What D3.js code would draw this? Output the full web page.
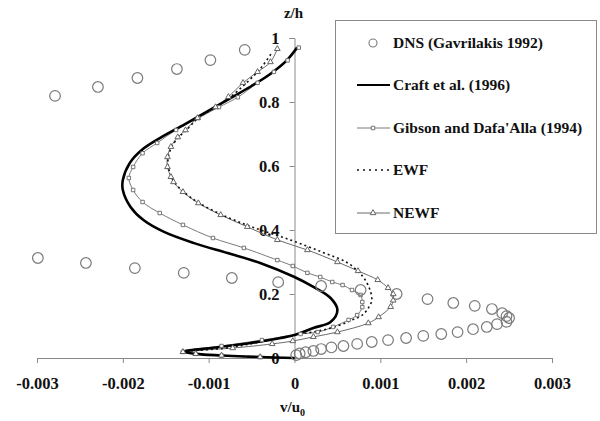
<!DOCTYPE html>
<html>
<head>
<meta charset="utf-8">
<script src="https://cdn.jsdelivr.net/npm/d3@7"></script>
<style>
  html, body { margin: 0; padding: 0; background: #fff; }
  svg { display: block; }
  text { font-family: "Liberation Serif", "Times New Roman", serif; font-weight: bold; fill: #111; }
</style>
</head>
<body>
<svg id="chart" width="600" height="421"></svg>
<script>
// ---------------- DATA ----------------
const xTicks = [-0.003, -0.002, -0.001, 0, 0.001, 0.002, 0.003];
const xTickLabels = ["-0.003", "-0.002", "-0.001", "0", "0.001", "0.002", "0.003"];
const yTicks = [0, 0.2, 0.4, 0.6, 0.8, 1];
const yTickLabels = ["0", "0.2", "0.4", "0.6", "0.8", "1"];

const seriesNames = ["DNS (Gavrilakis 1992)", "Craft et al. (1996)", "Gibson and Dafa'Alla (1994)", "EWF", "NEWF"];

// DNS (Gavrilakis 1992): v/u0 (x1e-3) and z/h
const dnsV = [-2.79, -2.29, -1.83, -1.37, -0.98, -0.58,
  -2.99, -2.43, -1.86, -1.29, -0.73, -0.19, 0.31, 0.77, 1.19, 1.55, 1.85, 2.10, 2.30, 2.42, 2.47, 2.50,
  2.47, 2.36, 2.24, 2.08, 1.90, 1.71, 1.50, 1.30, 1.09, 0.90, 0.73, 0.57, 0.43, 0.31, 0.22, 0.13, 0.06, 0.02];
const dnsZ = [0.819, 0.847, 0.875, 0.903, 0.931, 0.963,
  0.3125, 0.297, 0.281, 0.266, 0.25, 0.237, 0.225, 0.2125, 0.2, 0.184, 0.172, 0.163, 0.153, 0.14, 0.131, 0.125,
  0.113, 0.106, 0.097, 0.09, 0.081, 0.075, 0.069, 0.0625, 0.056, 0.05, 0.044, 0.0375, 0.033, 0.028, 0.022, 0.018, 0.014, 0.009];

// Craft et al. (1996)
const craftZ = [0, 0.003, 0.008, 0.013, 0.02, 0.031, 0.047, 0.072, 0.094, 0.1125, 0.15, 0.1875, 0.222, 0.253,
  0.297, 0.328, 0.359, 0.394, 0.431, 0.472, 0.525, 0.556, 0.609, 0.65, 0.69, 0.73, 0.77, 0.81, 0.85, 0.89, 0.93, 0.97];
const craftV = [0, -0.4, -0.85, -1.15, -1.3, -0.98, -0.51, 0, 0.22, 0.42, 0.5, 0.42, 0.22, 0,
  -0.40, -0.78, -1.17, -1.52, -1.76, -1.91, -2.0, -2.0, -1.92, -1.78, -1.55, -1.28, -1.02, -0.76, -0.50, -0.27, -0.09, 0.03];

// Gibson and Dafa'Alla (1994)
const gibsonZ = [0, 0.003, 0.008, 0.013, 0.019, 0.0375, 0.056, 0.075, 0.081, 0.097, 0.119, 0.134, 0.159, 0.175, 0.197,
  0.2125, 0.228, 0.2375, 0.253, 0.266, 0.2875, 0.306, 0.344, 0.375, 0.416, 0.453, 0.4875, 0.525, 0.5625, 0.597,
  0.64, 0.672, 0.7125, 0.75, 0.784, 0.815, 0.86, 0.894, 0.93, 0.97];
const gibsonV = [0, -0.4, -0.85, -1.15, -1.3, -0.85, -0.38, 0.07, 0.27, 0.45, 0.63, 0.73, 0.79, 0.79, 0.77,
  0.67, 0.56, 0.44, 0.30, 0.15, -0.02, -0.2, -0.59, -0.95, -1.30, -1.57, -1.77, -1.88, -1.93, -1.88,
  -1.77, -1.60, -1.38, -1.12, -0.88, -0.66, -0.43, -0.24, -0.08, 0.05];

// EWF
const ewfZ = [0, 0.003, 0.008, 0.013, 0.019, 0.031, 0.05, 0.072, 0.084, 0.1, 0.119, 0.134, 0.156, 0.18, 0.2125,
  0.253, 0.297, 0.33, 0.369, 0.41, 0.447, 0.484, 0.519, 0.55, 0.597, 0.628, 0.66, 0.69, 0.712, 0.75, 0.8, 0.87, 0.91, 0.956];
const ewfV = [0, -0.4, -0.85, -1.15, -1.3, -0.8, -0.4, 0, 0.27, 0.5, 0.67, 0.79, 0.86, 0.9, 0.88,
  0.8, 0.62, 0.33, -0.05, -0.5, -0.84, -1.11, -1.29, -1.40, -1.47, -1.47, -1.43, -1.35, -1.26, -1.12, -0.82, -0.52, -0.38, -0.26];

// NEWF
const newfZ = [0, 0.003, 0.008, 0.013, 0.019, 0.031, 0.044, 0.053, 0.066, 0.081, 0.109, 0.128, 0.16, 0.18, 0.2,
  0.219, 0.244, 0.272, 0.3, 0.3375, 0.369, 0.41, 0.447, 0.484, 0.519, 0.55, 0.566, 0.597, 0.628, 0.66, 0.69,
  0.712, 0.75, 0.784, 0.816, 0.86, 0.894, 0.925, 0.966];
const newfV = [0, -0.4, -0.85, -1.15, -1.3, -0.72, -0.26, -0.02, 0.22, 0.5, 0.86, 0.98, 1.12, 1.15, 1.15,
  1.09, 0.97, 0.74, 0.5, 0.15, -0.2, -0.55, -0.86, -1.12, -1.30, -1.41, -1.44, -1.48, -1.48, -1.44, -1.36,
  -1.27, -1.13, -0.92, -0.77, -0.6, -0.43, -0.28, -0.2];

// ---------------- CHART ----------------
const svg = d3.select("#chart");
const x = d3.scaleLinear().domain([-0.003, 0.003]).range([37, 552]);
const y = d3.scaleLinear().domain([0, 1]).range([358, 38]);
const axisColor = "#8a8a8a";
const serif = '"Liberation Serif", "Times New Roman", serif';

const toPts = (vs, zs) => vs.map((v, i) => ({ v: v * 1e-3, z: zs[i] }));
const line = d3.line().x(d => x(d.v)).y(d => y(d.z)).curve(d3.curveCatmullRom.alpha(0.5));

// axes
const xAxis = d3.axisBottom(x).tickValues(xTicks).tickSize(5).tickFormat((d, i) => xTickLabels[i]);
const gx = svg.append("g").attr("transform", `translate(0,${y(0)})`).call(xAxis);
gx.attr("font-family", serif);
gx.select(".domain").attr("stroke", axisColor);
gx.selectAll(".tick line").attr("stroke", axisColor);
gx.selectAll(".tick text").attr("dy", 0).attr("y", 31).style("font-size", "16.5px")
  .style("font-family", serif).style("font-weight", "bold").attr("fill", "#111");

const yAxis = d3.axisLeft(y).tickValues(yTicks).tickSize(5).tickFormat((d, i) => yTickLabels[i]);
const gy = svg.append("g").attr("transform", `translate(${x(0)},0)`).call(yAxis);
gy.attr("font-family", serif);
gy.select(".domain").attr("stroke", axisColor);
gy.selectAll(".tick line").attr("stroke", axisColor);
gy.selectAll(".tick text").attr("x", -15).style("font-size", "16.5px")
  .style("font-family", serif).style("font-weight", "bold").attr("fill", "#111");

// axis titles
svg.append("text").attr("x", x(0) - 1).attr("y", 18).attr("text-anchor", "middle").style("font-size", "15px").text("z/h");
const xt = svg.append("text").attr("x", x(0) - 2).attr("y", 412).attr("text-anchor", "middle").style("font-size", "15px");
xt.append("tspan").text("v/u");
xt.append("tspan").attr("dy", 4).style("font-size", "10px").text("0");

// series lines
const gibsonPts = toPts(gibsonV, gibsonZ);
const newfPts = toPts(newfV, newfZ);
svg.append("path").attr("d", line(gibsonPts)).attr("fill", "none").attr("stroke", "#7a7a7a").attr("stroke-width", 1);
svg.append("path").attr("d", line(newfPts)).attr("fill", "none").attr("stroke", "#6a6a6a").attr("stroke-width", 1);
svg.append("path").attr("d", line(toPts(ewfV, ewfZ))).attr("fill", "none").attr("stroke", "#111")
  .attr("stroke-width", 1.6).attr("stroke-dasharray", "2,3");
svg.append("path").attr("d", line(toPts(craftV, craftZ))).attr("fill", "none").attr("stroke", "#000").attr("stroke-width", 2.6);

// markers
const sq = d3.symbol().type(d3.symbolSquare).size(12);
const tri = d3.symbol().type(d3.symbolTriangle).size(14);
svg.append("g").selectAll("path").data(gibsonPts.slice(1)).join("path")
  .attr("d", sq).attr("transform", d => `translate(${x(d.v)},${y(d.z)})`)
  .attr("fill", "#fff").attr("stroke", "#666").attr("stroke-width", 0.9);
svg.append("g").selectAll("path").data(newfPts.slice(1)).join("path")
  .attr("d", tri).attr("transform", d => `translate(${x(d.v)},${y(d.z)})`)
  .attr("fill", "#fff").attr("stroke", "#555").attr("stroke-width", 0.9);

// DNS circles
svg.append("g").selectAll("circle").data(toPts(dnsV, dnsZ)).join("circle")
  .attr("cx", d => x(d.v)).attr("cy", d => y(d.z)).attr("r", 5.3)
  .attr("fill", "none").attr("stroke", "#7a7a7a").attr("stroke-width", 1.2);

// legend
const lg = svg.append("g");
lg.append("rect").attr("x", 335.5).attr("y", 20.5).attr("width", 261).attr("height", 213)
  .attr("fill", "#fff").attr("stroke", "#8a8a8a").attr("stroke-width", 1);
const rowsY = [43, 85, 128, 170, 213];
const lx0 = 357, lx1 = 390, lxm = 373;
// DNS
lg.append("circle").attr("cx", lxm).attr("cy", rowsY[0]).attr("r", 4).attr("fill", "none").attr("stroke", "#7a7a7a").attr("stroke-width", 1.1);
// Craft
lg.append("line").attr("x1", lx0).attr("x2", lx1).attr("y1", rowsY[1]).attr("y2", rowsY[1]).attr("stroke", "#000").attr("stroke-width", 2);
// Gibson
lg.append("line").attr("x1", lx0).attr("x2", lx1).attr("y1", rowsY[2]).attr("y2", rowsY[2]).attr("stroke", "#7a7a7a").attr("stroke-width", 1);
lg.append("path").attr("d", sq).attr("transform", `translate(${lxm},${rowsY[2]})`).attr("fill", "#fff").attr("stroke", "#666").attr("stroke-width", 0.9);
// EWF
lg.append("line").attr("x1", lx0).attr("x2", lx1).attr("y1", rowsY[3]).attr("y2", rowsY[3]).attr("stroke", "#111").attr("stroke-width", 1.6).attr("stroke-dasharray", "2,4");
// NEWF
lg.append("line").attr("x1", lx0).attr("x2", lx1).attr("y1", rowsY[4]).attr("y2", rowsY[4]).attr("stroke", "#6a6a6a").attr("stroke-width", 1);
lg.append("path").attr("d", tri).attr("transform", `translate(${lxm},${rowsY[4]})`).attr("fill", "#fff").attr("stroke", "#555").attr("stroke-width", 0.9);

lg.selectAll("text.lbl").data(seriesNames).join("text").attr("class", "lbl")
  .attr("x", 393).attr("y", (d, i) => rowsY[i] + 5).style("font-size", "15.5px").text(d => d);
</script>
</body>
</html>
